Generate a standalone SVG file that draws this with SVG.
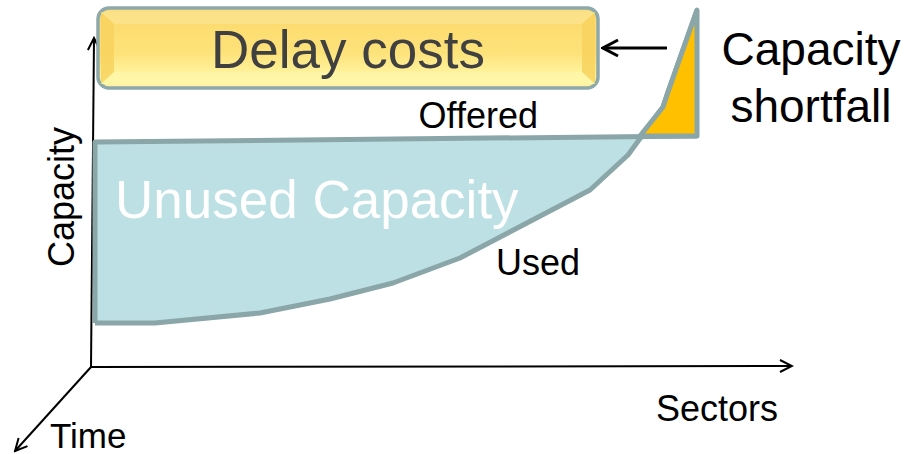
<svg xmlns="http://www.w3.org/2000/svg" width="907" height="454" viewBox="0 0 907 454">
  <defs>
    <linearGradient id="boxFill" x1="0" y1="0" x2="0" y2="1">
      <stop offset="0" stop-color="#fbde7e"/>
      <stop offset="0.55" stop-color="#fddc6c"/>
      <stop offset="1" stop-color="#fff5a6"/>
    </linearGradient>
    <linearGradient id="faceFill" x1="0" y1="0" x2="0" y2="1">
      <stop offset="0" stop-color="#fcdc70"/>
      <stop offset="0.6" stop-color="#fde27a"/>
      <stop offset="1" stop-color="#fff29a"/>
    </linearGradient>
    <marker id="open" viewBox="0 0 16 16" refX="14" refY="8" markerWidth="16" markerHeight="16" markerUnits="userSpaceOnUse" orient="auto">
      <path d="M2,2 L14,8 L2,14" fill="none" stroke="#000" stroke-width="2"/>
    </marker>
    <marker id="openBig" viewBox="0 0 20 20" refX="18" refY="10" markerWidth="20" markerHeight="20" markerUnits="userSpaceOnUse" orient="auto">
      <path d="M3,2 L18,10 L3,18" fill="none" stroke="#000" stroke-width="3"/>
    </marker>
  </defs>
  <style>
    .lbl { font-family: "Liberation Sans", Arial, sans-serif; fill: #000; }
    .axis { stroke: #000; stroke-width: 2; fill: none; }
    .edge { stroke: #8aa6a8; stroke-width: 5; stroke-linejoin: round; }
  </style>

  <rect width="907" height="454" fill="#fff"/>

  <!-- axes -->
  <g id="connectors">
    <line class="axis" x1="91" y1="367" x2="94" y2="38" marker-end="url(#open)"/>
    <line class="axis" x1="91" y1="367" x2="792" y2="366" marker-end="url(#open)"/>
    <line class="axis" x1="91" y1="367" x2="15" y2="451" marker-end="url(#open)"/>
    <line x1="667" y1="48" x2="603" y2="48" stroke="#000" stroke-width="3" marker-end="url(#openBig)"/>
  </g>

  <!-- unused capacity region -->
  <g id="unused">
    <path d="M95,142 L667,137 L637,138 L628,155 L590,190 L460,258 L393,283 L330,299 L260,313 L155,323 L95,323 Z" fill="#bce0e3"/>
    <polyline class="edge" fill="none" points="95,323 95,142 697,136"/>
    <polyline class="edge" fill="none" points="95,323 155,323 260,313 330,299 393,283 460,258 590,190 628,155 663,107 668,92 697,10"/>
    <text class="lbl" x="115" y="218" font-size="53" style="fill:#fff">Unused Capacity</text>
  </g>

  <!-- capacity shortfall wedge -->
  <g id="shortfall">
    <path d="M640,136 L663,107 L668,92 L697,10 L697,136 Z" fill="#ffc000"/>
    <polyline class="edge" fill="none" points="640,136 663,107 668,92 697,10 697,136 640,136"/>
    <text class="lbl" x="811" y="65" font-size="46" text-anchor="middle">Capacity</text>
    <text class="lbl" x="811" y="122" font-size="46" text-anchor="middle">shortfall</text>
  </g>

  <!-- delay costs box -->
  <g id="delay">
    <rect x="98" y="8" width="500" height="80" rx="11" fill="url(#boxFill)" stroke="#8ea9ab" stroke-width="3.5"/>
    <polygon points="101,12 595,12 582,24 114,24" fill="#fbe28c" opacity="0.8"/>
    <polygon points="101,12 114,24 114,72 101,84" fill="#f8d25e" opacity="0.8"/>
    <polygon points="595,12 582,24 582,72 595,84" fill="#f8d25e" opacity="0.8"/>
    <polygon points="101,84 114,72 582,72 595,84" fill="#fff6a8" opacity="0.9"/>
    <rect x="114" y="24" width="468" height="48" fill="url(#faceFill)"/>
    <text class="lbl" x="348" y="68" font-size="53" text-anchor="middle" style="fill:#404040">Delay costs</text>
  </g>

  <!-- axis and curve labels -->
  <g id="labels">
    <text class="lbl" x="538" y="128" font-size="36" text-anchor="end">Offered</text>
    <text class="lbl" x="496" y="275" font-size="36">Used</text>
    <text class="lbl" x="717" y="421" font-size="36" text-anchor="middle">Sectors</text>
    <text class="lbl" x="50" y="448" font-size="35">Time</text>
    <text class="lbl" font-size="36" text-anchor="middle" transform="translate(74,197) rotate(-90)">Capacity</text>
  </g>
</svg>
